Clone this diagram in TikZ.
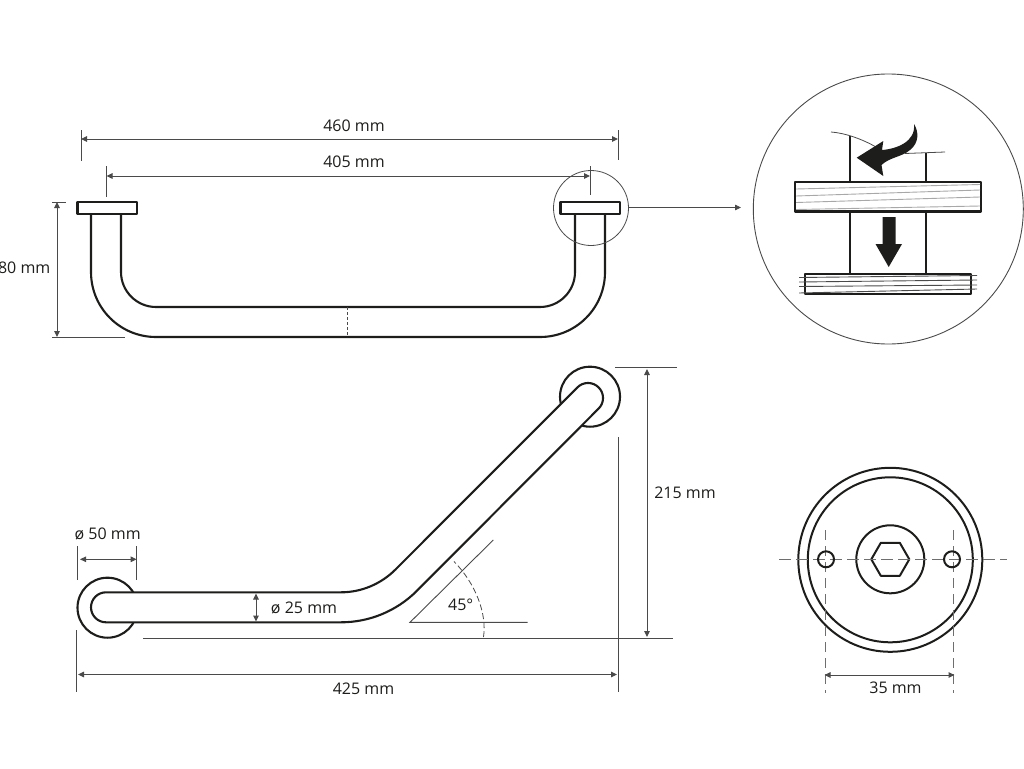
\documentclass[tikz,border=0pt]{standalone}
\usepackage{fontspec}
\setmainfont{Open Sans}
\usetikzlibrary{arrows.meta,calc}
\definecolor{ink}{HTML}{1D1D1B}
\definecolor{dimc}{HTML}{4A4A4A}
\definecolor{grainc}{HTML}{A8A8A8}
\tikzset{
  part/.style={draw=ink,line width=2.1pt,fill=white,line join=round},
  thin part/.style={draw=ink,line width=2pt},
  dimline/.style={draw=dimc,line width=1pt,{Stealth[length=6pt,width=5.5pt,inset=0pt]}-{Stealth[length=6pt,width=5.5pt,inset=0pt]}},
  extline/.style={draw=dimc,line width=0.9pt},
  grain/.style={draw=grainc,line width=0.9pt},
  lab/.style={text=ink,font=\fontsize{16}{18}\selectfont,inner sep=0pt}
}
\begin{document}
\begin{tikzpicture}[x=1pt,y=-1pt]
\useasboundingbox (0,0) rectangle (1024,768);
% ---- top view
\path[part] (91,214) -- (91,272) .. controls (91,308) and (120,337) .. (156,337) -- (540,337)
  .. controls (576,337) and (605,308) .. (605,272) -- (605,214);
\path[part] (121,214) -- (121,272) .. controls (121,291.3) and (136.7,307) .. (156,307) -- (540,307)
  .. controls (559.3,307) and (575,291.3) .. (575,272) -- (575,214);
\path[part] (77.5,202) rectangle (137,214);
\path[part] (560.5,202) rectangle (620,214);
\draw[draw=dimc,line width=0.8pt,dash pattern=on 3pt off 2pt] (347.5,307) -- (347.5,337);
% dims top
\coordinate (a1) at (81,139); \coordinate (a2) at (618,139);
\draw[dimline] (a1) -- (a2);
\draw[extline] (81,130) -- (81,161); \draw[extline] (618,130) -- (618,159.5);
\node[lab] (t460) at (354,126) {460 mm};
\coordinate (b1) at (106.5,176); \coordinate (b2) at (590,176);
\draw[dimline] (b1) -- (b2);
\draw[extline] (106.5,166) -- (106.5,197); \draw[extline] (590,166) -- (590,195);
\node[lab] (t405) at (354,162) {405 mm};
\coordinate (c1) at (57,202); \coordinate (c2) at (57,337);
\draw[dimline] (c1) -- (c2);
\draw[extline] (52,202) -- (66,202); \draw[extline] (52,337) -- (125,337);
\node[lab,anchor=east] (t80) at (50.5,268) {80 mm};
% detail circle
\node[circle,draw=dimc,line width=0.8pt,minimum size=75pt,inner sep=0pt] (small) at (591,208) {};
\coordinate (bigw) at (741,207.5);
\draw[draw=dimc,line width=0.8pt,-{Stealth[length=6pt,width=5.5pt,inset=0pt]}] (629,207.5) -- (bigw);
\node[circle,draw=dimc,line width=0.9pt,minimum size=270pt,inner sep=0pt] (big) at (888.3,209) {};
% ---- detail content
\draw[thin part] (850,135.5) -- (850,182) (925.7,153) -- (925.7,182);
\draw[thin part] (850,212) -- (850,274) (925.7,212) -- (925.7,274);
\draw[draw=dimc,line width=0.8pt] (831,132) .. controls (845,133) and (862,139) .. (876,147);
\draw[draw=dimc,line width=0.8pt] (905,153.5) -- (945,152);
\path[part] (795,182) rectangle (981,211.5);
\draw[grain] (796,189) -- (980,184.5);
\draw[grain] (796,196) -- (980,190);
\draw[grain] (796,202.5) -- (980,197);
\draw[grain] (796,209.5) -- (980,206);
\path[part] (805,274) rectangle (971,294);
\draw[grain,draw=dimc] (799,277.5) -- (977,275.5);
\draw[grain,draw=dimc] (799,282) -- (977,280);
\draw[grain,draw=dimc] (799,286.5) -- (977,285);
\draw[grain,draw=dimc] (799,293) -- (977,289);
\fill[ink] (856.7,157.7) -- (883.3,141) -- (882,150)
  .. controls (896,149) and (916,142) .. (914,124)
  .. controls (919,132) and (919,143) .. (910,150)
  .. controls (902,157) and (890,157) .. (881.5,165) -- (883.3,176) -- cycle;
\fill[ink] (882.5,217) -- (895.5,217) -- (895.5,244) -- (902,244) -- (888.7,267) -- (875.5,244) -- (882.5,244) -- cycle;
% ---- side view
\node[circle,part,minimum size=60pt,inner sep=0pt] (discL) at (107.5,607.7) {};
\node[circle,part,minimum size=60pt,inner sep=0pt] (discR) at (590,396.7) {};
\path[part] (341,592.3) -- (106,592.3) .. controls (97.7,592.3) and (91,599) .. (91,607.3)
  .. controls (91,615.6) and (97.7,622.3) .. (106,622.3) -- (341,622.3)
  .. controls (369.4,622.3) and (396.6,611) .. (416.7,591)
  -- (598.6,408.6) .. controls (604.5,402.8) and (604.5,393.2) .. (598.6,387.4)
  .. controls (592.8,381.5) and (583.2,381.5) .. (577.4,387.4)
  -- (395.5,569.5) .. controls (381,584) and (361.4,592.3) .. (341,592.3) -- cycle;
% dims side
\coordinate (d1) at (80,559.3); \coordinate (d2) at (136.7,559.3);
\draw[dimline] (d1) -- (d2);
\draw[extline] (77.7,546) -- (77.7,580); \draw[extline] (136.7,546) -- (136.7,580);
\node[lab] (t50) at (107.7,534) {ø 50 mm};
\coordinate (e1) at (256,593.5); \coordinate (e2) at (256,621.5);
\draw[dimline] (e1) -- (e2);
\node[lab] (t25) at (304,607.7) {ø 25 mm};
\draw[extline] (143,638) -- (673,638);
\draw[extline] (615,367.5) -- (677,367.5);
\coordinate (f1) at (647,369); \coordinate (f2) at (647,637);
\draw[dimline] (f1) -- (f2);
\node[lab] (t215) at (685,492.5) {215 mm};
\coordinate (g1) at (78,674.5); \coordinate (g2) at (617,674.5);
\draw[dimline] (g1) -- (g2);
\draw[extline] (76.5,630) -- (76.5,692); \draw[extline] (618,437) -- (618,692);
\node[lab] (t425) at (363.5,689) {425 mm};
\draw[extline] (527.7,622.3) -- (410,622.3) -- (493.3,540);
\draw[draw=dimc,line width=0.8pt,dash pattern=on 6pt off 3pt] (483.5,637) .. controls (487,614) and (476,584) .. (454,561.5);
\node[lab] (t45) at (460.7,605) {45°};
% ---- flange view
\node[circle,draw=ink,line width=2pt,minimum size=184pt,inner sep=0pt] (f_out) at (890.3,559.8) {};
\node[circle,draw=ink,line width=2pt,minimum size=165pt,inner sep=0pt] (f_in) at (890.3,559.8) {};
\node[circle,draw=ink,line width=2pt,minimum size=68pt,inner sep=0pt] (hub) at (890.3,559.3) {};
\draw[draw=ink,line width=2pt,line join=round] (871.3,559.3) -- (880.8,542.8) -- (899.8,542.8) -- (909.3,559.3) -- (899.8,575.8) -- (880.8,575.8) -- cycle;
\draw[draw=dimc!80,line width=1pt,dash pattern=on 12pt off 5pt] (779,559.3) -- (1007,559.3);
\draw[draw=dimc!80,line width=1pt,dash pattern=on 10pt off 6pt] (825.7,530) -- (825.7,693);
\draw[draw=dimc!80,line width=1pt,dash pattern=on 10pt off 6pt] (953.5,530) -- (953.5,693);
\node[circle,draw=ink,fill=none,line width=2pt,minimum size=16pt,inner sep=0pt] (h1) at (826,559.3) {};
\node[circle,draw=ink,fill=none,line width=2pt,minimum size=16pt,inner sep=0pt] (h2) at (952,559.3) {};
\coordinate (k1) at (824.5,675); \coordinate (k2) at (954.5,675);
\draw[dimline] (k1) -- (k2);
\node[lab] (t35) at (895.5,688) {35 mm};
\end{tikzpicture}
\end{document}
